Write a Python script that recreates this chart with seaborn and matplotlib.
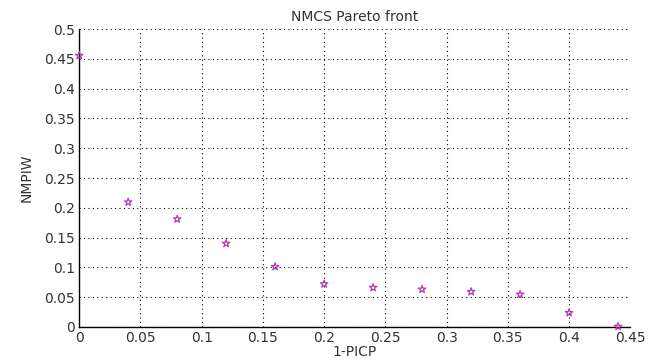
import seaborn as sns
import matplotlib.pyplot as plt
import numpy as np

# values
picp_err = [0.0, 0.04, 0.08, 0.12, 0.16, 0.20, 0.24, 0.28, 0.32, 0.36, 0.40, 0.44]
nmpiw = [0.4557, 0.2094, 0.181, 0.140, 0.101, 0.072, 0.066, 0.063, 0.059, 0.0545, 0.0236, 0.0005]
x_ticks = [0, 0.05, 0.1, 0.15, 0.2, 0.25, 0.3, 0.35, 0.4, 0.45]
x_labels = ["0", "0.05", "0.1", "0.15", "0.2", "0.25", "0.3", "0.35", "0.4", "0.45"]
y_ticks = [0, 0.05, 0.1, 0.15, 0.2, 0.25, 0.3, 0.35, 0.4, 0.45, 0.5]
y_labels = ["0", "0.05", "0.1", "0.15", "0.2", "0.25", "0.3", "0.35", "0.4", "0.45", "0.5"]

sns.set_style("white")
plt.rcParams["font.family"] = ["DejaVu Sans"]

fig = plt.figure(figsize=(6.6, 3.6), dpi=100)
ax = fig.add_axes([0.12, 0.092, 0.835, 0.827])

sns.scatterplot(x=picp_err, y=nmpiw, ax=ax, marker="*", s=32,
                facecolor="none", edgecolor="#b33cb3", linewidth=0.9,
                clip_on=False, zorder=5)

ax.set_xlim(0, 0.45)
ax.set_ylim(0, 0.5)
ax.set_xticks(x_ticks)
ax.set_xticklabels(x_labels)
ax.set_yticks(y_ticks)
ax.set_yticklabels(y_labels)
ax.tick_params(direction="in", length=4, width=0.8, labelsize=10,
               colors="black", labelcolor="#333333", pad=3)

ax.grid(True, linestyle=(0, (1, 3)), color="black", linewidth=0.8)
for s in ["top", "right"]:
    ax.spines[s].set_visible(False)
for s in ["left", "bottom"]:
    ax.spines[s].set_color("black")
    ax.spines[s].set_linewidth(1.0)

ax.set_title("NMCS Pareto front", fontsize=10, color="#333333", pad=6)
ax.set_xlabel("1-PICP", fontsize=10, color="#333333", labelpad=0)
ax.set_ylabel("NMPIW", fontsize=10, color="#333333", labelpad=8)

plt.savefig("out.png", dpi=100)
plt.close()
